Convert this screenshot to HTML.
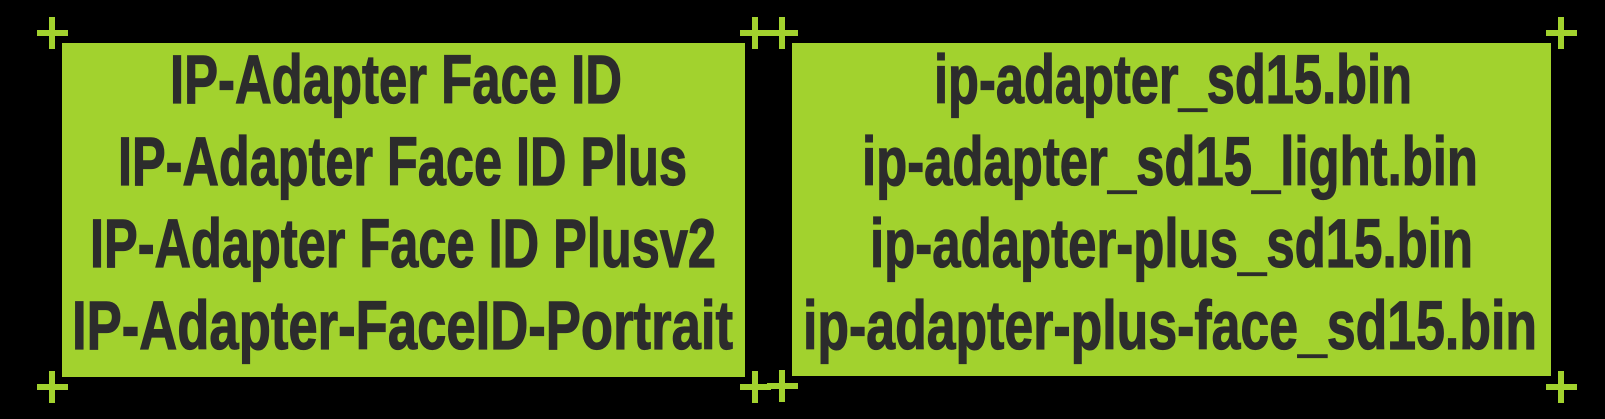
<!DOCTYPE html>
<html><head><meta charset="utf-8"><style>
html,body{margin:0;padding:0;background:#000;width:1605px;height:419px;overflow:hidden}
svg{display:block}
text{font-family:"Liberation Sans",sans-serif;font-weight:bold;font-size:69px;fill:#2c2c2c;stroke:#2c2c2c;stroke-width:1.2px}
</style></head><body>
<svg width="1605" height="419" viewBox="0 0 1605 419">
<rect x="0" y="0" width="1605" height="419" fill="#000"/>
<rect x="62" y="43" width="683" height="334" fill="#a2d22e"/>
<rect x="792" y="43" width="759" height="333" fill="#a2d22e"/>
<g>
<text x="170" y="103" textLength="452" lengthAdjust="spacingAndGlyphs">IP-Adapter Face ID</text>
<text x="118" y="185" textLength="569" lengthAdjust="spacingAndGlyphs">IP-Adapter Face ID Plus</text>
<text x="90" y="267" textLength="626" lengthAdjust="spacingAndGlyphs">IP-Adapter Face ID Plusv2</text>
<text x="72" y="349" textLength="661" lengthAdjust="spacingAndGlyphs">IP-Adapter-FaceID-Portrait</text>
</g>
<g>
<text x="934" y="103" textLength="478" lengthAdjust="spacingAndGlyphs">ip-adapter_sd15.bin</text>
<text x="862" y="185" textLength="616" lengthAdjust="spacingAndGlyphs">ip-adapter_sd15_light.bin</text>
<text x="870" y="267" textLength="603" lengthAdjust="spacingAndGlyphs">ip-adapter-plus_sd15.bin</text>
<text x="803" y="349" textLength="734" lengthAdjust="spacingAndGlyphs">ip-adapter-plus-face_sd15.bin</text>
</g>
<g fill="#a2d22e">
<g><rect x="37" y="30" width="31" height="6"/><rect x="49" y="17" width="6" height="32"/></g>
<g><rect x="740" y="30" width="31" height="6"/><rect x="752" y="17" width="6" height="32"/></g>
<g><rect x="767" y="30" width="31" height="6"/><rect x="779" y="17" width="6" height="32"/></g>
<g><rect x="1546" y="30" width="31" height="6"/><rect x="1558" y="17" width="6" height="32"/></g>
<g><rect x="37" y="384" width="31" height="6"/><rect x="49" y="371" width="6" height="32"/></g>
<g><rect x="740" y="384" width="31" height="6"/><rect x="752" y="371" width="6" height="32"/></g>
<g><rect x="767" y="383" width="31" height="6"/><rect x="779" y="370" width="6" height="32"/></g>
<g><rect x="1546" y="384" width="31" height="6"/><rect x="1558" y="371" width="6" height="32"/></g>
</g>
</svg>
</body></html>
